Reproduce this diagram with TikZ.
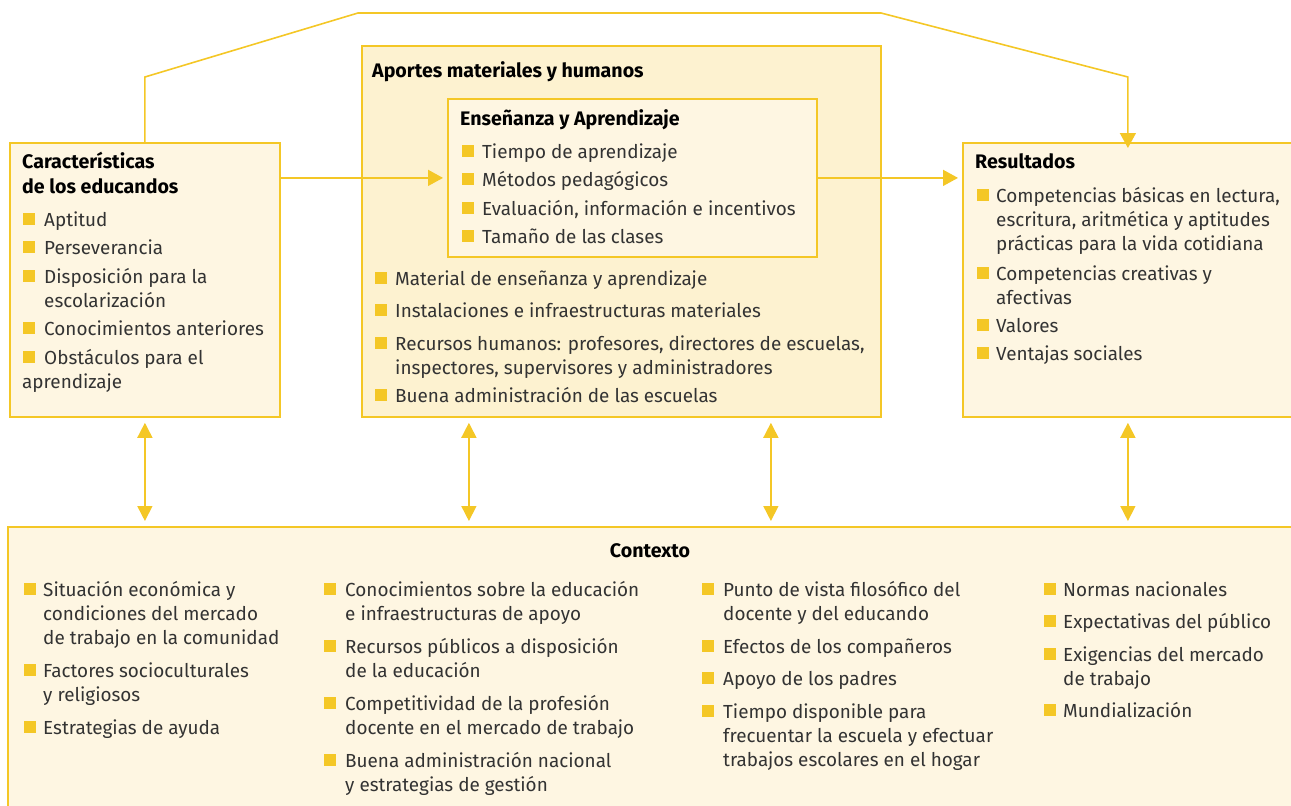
\documentclass[tikz,border=0pt]{standalone}
\usepackage{fontspec}
\setmainfont{Fira Sans}
\usetikzlibrary{arrows.meta}
\definecolor{ylw}{HTML}{F4C726}
\definecolor{fillA}{HTML}{FEF6E2}
\definecolor{fillB}{HTML}{FDF2D0}
\definecolor{txt}{HTML}{333333}
\tikzset{
 box/.style={draw=ylw, line width=1.8pt, inner sep=0pt, anchor=north west},
 conn/.style={draw=ylw, line width=1.6pt},
 tipone/.style={-{Triangle[length=15pt,width=16pt]}},
 tiptwo/.style={{Triangle[length=15pt,width=15pt]}-{Triangle[length=15pt,width=15pt]}},
 itemtext/.style={anchor=base west, inner sep=0pt, text=txt, font=\fontsize{18.9}{24}\selectfont},
 ttl/.style={anchor=base west, inner sep=0pt, text=black, font=\bfseries\fontsize{19.6}{25}\selectfont},
}
\newcommand\lines[1]{\begin{tabular}[t]{@{}l@{}}#1\end{tabular}}
\newcommand\itm[5]{\fill[ylw] ({#2},{#4-1.5}) rectangle ({#2+12},{#4-13.5}); \node[itemtext] (#1) at (#3,#4) {\lines{#5}};}
\begin{document}
\begin{tikzpicture}[x=1pt,y=-1pt]
\useasboundingbox (0,0) rectangle (1291,806);
% boxes
\node[box, fill=fillA, minimum width=270pt, minimum height=274pt] (car) at (9,142) {};
\node[box, fill=fillB, minimum width=519pt, minimum height=371pt] (ap) at (361,45) {};
\node[box, fill=fillA, minimum width=369pt, minimum height=158pt] (ens) at (447,98) {};
\node[box, fill=fillA, minimum width=330pt, minimum height=274pt] (res) at (962,142) {};
\node[box, fill=fillA, minimum width=1300pt, minimum height=300pt] (ctx) at (7,526) {};
% connectors
\coordinate (k1) at (358,13);
\coordinate (k2) at (881,13);
\draw[conn,tipone] (car.north) -- ++(0,-65) -- (k1) -- (k2) -- ([yshift=65pt]res.north) -- ([yshift=-6pt]res.north);
\draw[conn,tipone,shorten >=4pt] (ens.west -| car.east) -- (ens.west);
\draw[conn,tipone,shorten >=4pt] (ens.east) -- (ens.east -| res.west);
\draw[conn,tiptwo,shorten <=5pt,shorten >=5pt] (car.south) -- (car.south |- ctx.north);
\draw[conn,tiptwo,shorten <=5pt,shorten >=5pt] ([xshift=-152.5pt]ap.south) -- ([xshift=-152.5pt]ap.south |- ctx.north);
\draw[conn,tiptwo,shorten <=5pt,shorten >=5pt] ([xshift=149.5pt]ap.south) -- ([xshift=149.5pt]ap.south |- ctx.north);
\draw[conn,tiptwo,shorten <=5pt,shorten >=5pt] (res.south) -- (res.south |- ctx.north);
% left box
\node[ttl] (cart) at (22,168) {\lines{Características\\de los educandos}};
\itm{c1}{23}{44}{226}{Aptitud}
\itm{c2}{23}{44}{254}{Perseverancia}
\itm{c3}{23}{44}{283}{Disposición para la\\escolarización}
\itm{c4}{23}{44}{335}{Conocimientos anteriores}
\itm{c5}{23}{44}{364}{Obstáculos para el}
\node[itemtext] (c5b) at (22,388) {aprendizaje};
% aportes
\node[ttl] (apt) at (372,77) {Aportes materiales y humanos};
\node[ttl] (enst) at (460,125) {Enseñanza y Aprendizaje};
\itm{e1}{462}{482}{158}{Tiempo de aprendizaje}
\itm{e2}{462}{482}{186}{Métodos pedagógicos}
\itm{e3}{462}{482}{215}{Evaluación, información e incentivos}
\itm{e4}{462}{482}{243}{Tamaño de las clases}
\itm{a1}{375}{395}{285}{Material de enseñanza y aprendizaje}
\itm{a2}{375}{395}{317}{Instalaciones e infraestructuras materiales}
\itm{a3}{375}{395}{350}{Recursos humanos: profesores, directores de escuelas,\\inspectores, supervisores y administradores}
\itm{a4}{375}{395}{402}{Buena administración de las escuelas}
% resultados
\node[ttl] (rest) at (975,168) {Resultados};
\itm{r1}{977}{996}{202}{Competencias básicas en lectura,\\escritura, aritmética y aptitudes\\prácticas para la vida cotidiana}
\itm{r2}{977}{996}{280}{Competencias creativas y\\afectivas}
\itm{r3}{977}{996}{332}{Valores}
\itm{r4}{977}{996}{360}{Ventajas sociales}
% contexto
\node[ttl, anchor=base] (ctxt) at (650,557) {Contexto};
\itm{x1}{24}{43}{596}{Situación económica y\\condiciones del mercado\\de trabajo en la comunidad}
\itm{x2}{24}{43}{677}{Factores socioculturales\\y religiosos}
\itm{x3}{24}{43}{734}{Estrategias de ayuda}
\itm{y1}{324}{345}{596}{Conocimientos sobre la educación\\e infraestructuras de apoyo}
\itm{y2}{324}{345}{653}{Recursos públicos a disposición\\de la educación}
\itm{y3}{324}{345}{710}{Competitividad de la profesión\\docente en el mercado de trabajo}
\itm{y4}{324}{345}{767}{Buena administración nacional\\y estrategias de gestión}
\itm{z1}{702}{723}{596}{Punto de vista filosófico del\\docente y del educando}
\itm{z2}{702}{723}{653}{Efectos de los compañeros}
\itm{z3}{702}{723}{685}{Apoyo de los padres}
\itm{z4}{702}{723}{718}{Tiempo disponible para\\frecuentar la escuela y efectuar\\trabajos escolares en el hogar}
\itm{w1}{1044}{1063}{596}{Normas nacionales}
\itm{w2}{1044}{1063}{628}{Expectativas del público}
\itm{w3}{1044}{1063}{661}{Exigencias del mercado\\de trabajo}
\itm{w4}{1044}{1063}{717}{Mundialización}
\end{tikzpicture}
\end{document}
